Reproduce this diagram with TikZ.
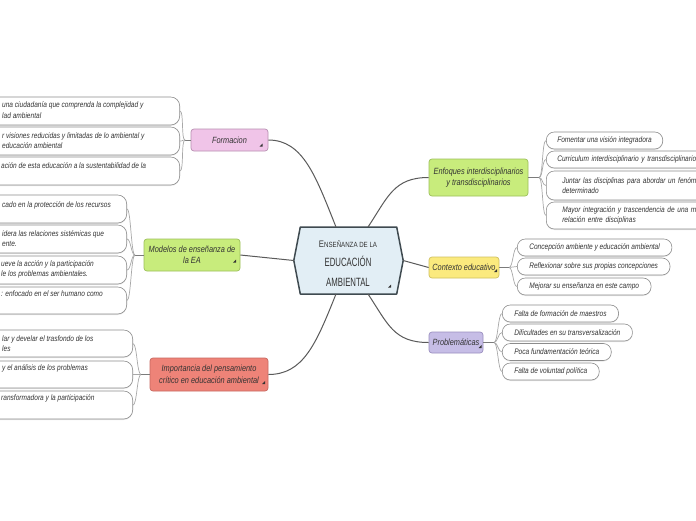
\documentclass[tikz,border=0pt]{standalone}
\usepackage{fontspec}
\setmainfont{Liberation Sans}
\newfontfamily\hand{Liberation Sans}[FakeStretch=0.82]
\newfontfamily\handc{Liberation Sans}[FakeStretch=0.65]
\usetikzlibrary{calc,shadows}
\definecolor{txt}{HTML}{333333}
\definecolor{cbord}{HTML}{8C8C8C}
\definecolor{conn}{HTML}{5A5A5A}
\definecolor{brk}{HTML}{A8A8A8}
\definecolor{pinkf}{HTML}{F0C4E8}
\definecolor{pinkd}{HTML}{B890B2}
\definecolor{greenf}{HTML}{C8EC7C}
\definecolor{greend}{HTML}{9CC05A}
\definecolor{redf}{HTML}{EE8378}
\definecolor{redd}{HTML}{C8675F}
\definecolor{yelf}{HTML}{FBEA7E}
\definecolor{yeld}{HTML}{CFC060}
\definecolor{lavf}{HTML}{C6BDE6}
\definecolor{lavd}{HTML}{9A8FC0}
\definecolor{ctrf}{HTML}{E2EEF5}
\definecolor{ctrd}{HTML}{3F4A50}
\tikzset{
  mainbox/.style={rounded corners=3pt, line width=0.7pt, text=txt, align=center,
    inner sep=0pt, font=\hand\itshape\fontsize{9}{11.5}\selectfont},
  childbox/.style={draw=cbord, fill=white, rounded corners=8pt, line width=0.6pt,
    text=txt, align=left, inner xsep=11pt, inner ysep=0pt, minimum height=17pt,
    font=\hand\itshape\fontsize{8}{10.5}\selectfont,
    drop shadow={opacity=0.18, shadow xshift=0pt, shadow yshift=-1pt}},
  leftbox/.style={draw=cbord, fill=white, rounded corners=9pt, line width=0.6pt,
    anchor=east, minimum width=320pt, inner sep=0pt,
    drop shadow={opacity=0.18, shadow xshift=0pt, shadow yshift=-1pt}},
  lefttext/.style={anchor=west, inner sep=0pt, align=left, text=txt,
    font=\hand\itshape\fontsize{8}{10.5}\selectfont},
  mainconn/.style={draw=conn, line width=1pt},
  stemconn/.style={draw=conn!80, line width=0.9pt},
  brkconn/.style={draw=brk, line width=0.7pt},
  marker/.style={fill=black!80}
}
\begin{document}
\begin{tikzpicture}[x=1pt,y=-1pt]
\path[use as bounding box] (0,0) rectangle (696,520);
\clip (0,0) rectangle (696,520);
\fill[white] (0,0) rectangle (696,520);

% ---------- centre ----------
\node[inner sep=0pt, minimum width=109pt, minimum height=66.6pt] (ctr) at (348.5,260.5) {};
\draw[fill=ctrf, draw=ctrd, line width=1.5pt, line join=round]
  ($(ctr.north west)+(6.5,0)$) -- ($(ctr.north east)+(-6.5,0)$) -- (ctr.east)
  -- ($(ctr.south east)+(-6.5,0)$) -- ($(ctr.south west)+(6.5,0)$) -- (ctr.west) -- cycle;
\node[inner sep=0pt, text=txt, align=center, font=\handc\fontsize{12}{19.5}\selectfont] (ctext) at (348,263.5)
  {{\hand\fontsize{9.5}{9.5}\selectfont E\fontsize{7.5}{7.5}\selectfont NSEÑANZA DE LA}\\EDUCACIÓN\\AMBIENTAL};
\fill[marker] (388,287.5) -- ++(3,0) -- ++(0,-3) -- cycle;

% ---------- main nodes ----------
\node[mainbox, fill=pinkf, draw=pinkd, minimum width=77pt, minimum height=22pt] (form) at (229.5,140) {Formacion};
\node[mainbox, fill=greenf, draw=greend, minimum width=96pt, minimum height=32pt] (mod) at (192,255) {Modelos de enseñanza de\\la EA};
\node[mainbox, fill=redf, draw=redd, minimum width=118pt, minimum height=33pt] (imp) at (209,374.5) {Importancia del pensamiento\\crítico en educación ambiental};
\node[mainbox, fill=greenf, draw=greend, minimum width=99pt, minimum height=37pt] (enf) at (478.5,177.5) {Enfoques interdisciplinarios\\y transdisciplinarios};
\node[mainbox, fill=yelf, draw=yeld, minimum width=70pt, minimum height=21pt] (ctx) at (464,267.5) {Contexto educativo};
\node[mainbox, fill=lavf, draw=lavd, minimum width=54pt, minimum height=21pt] (prob) at (456,342.5) {Problemáticas};

\fill[marker] (259.5,146.5) -- ++(3,0) -- ++(0,-3) -- cycle;
\fill[marker] (233,262.5) -- ++(3,0) -- ++(0,-3) -- cycle;
\fill[marker] (262,384) -- ++(3,0) -- ++(0,-3) -- cycle;
\fill[marker] (494,272) -- ++(3,0) -- ++(0,-3) -- cycle;
\fill[marker] (478.5,348) -- ++(3,0) -- ++(0,-3) -- cycle;

% ---------- centre connectors ----------
\draw[mainconn] (form.east) .. controls +(35,0) and +(-20,-50) .. ($(ctr.north)+(-12.5,0)$);
\draw[mainconn] (enf.west) .. controls +(-35,0) and +(20,-30) .. ($(ctr.north)+(19.5,0)$);
\draw[mainconn] (prob.west) .. controls +(-35,0) and +(20,30) .. ($(ctr.south)+(19.5,0)$);
\draw[mainconn] (imp.east) .. controls +(35,0) and +(-20,50) .. ($(ctr.south)+(-12.5,0)$);
\draw[mainconn] (mod.east) -- (ctr.west);
\draw[mainconn] (ctr.east) -- (ctx.west);

% ---------- Enfoques children ----------
\node[childbox, anchor=west] (e1) at (546,140.5) {Fomentar una visión integradora};
\node[childbox, anchor=west, text width=190pt] (e2) at (546,159.5) {Curriculum interdisciplinario y transdisciplinario};
\node[childbox, anchor=west, text width=190pt, inner xsep=16pt, minimum height=29pt] (e3) at (546,185.5) {Juntar las disciplinas para abordar un fenómeno\\determinado};
\node[childbox, anchor=west, text width=190pt, inner xsep=16pt, minimum height=27pt] (e4) at (546,215.5) {Mayor integración y trascendencia de una mejor\\relación entre disciplinas};
\coordinate (ej) at (539,177.5);
\draw[stemconn] (enf.east) -- (ej);
\foreach \c in {e1,e2,e3,e4} \draw[brkconn] (ej) .. controls +(4,0) and +(-4,0) .. (\c.west);

% ---------- Contexto children ----------
\node[childbox, anchor=west, inner xsep=12pt] (c1) at (517,247.5) {Concepción ambiente y educación ambiental};
\node[childbox, anchor=west, inner xsep=12pt] (c2) at (517,266.5) {Reflexionar sobre sus propias concepciones};
\node[childbox, anchor=west, inner xsep=12pt] (c3) at (517,286.5) {Mejorar su enseñanza en este campo};
\coordinate (cj) at (509,267.5);
\draw[stemconn] (ctx.east) -- (cj);
\foreach \c in {c1,c2,c3} \draw[brkconn] (cj) .. controls +(4,0) and +(-4,0) .. (\c.west);

% ---------- Problematicas children ----------
\node[childbox, anchor=west, inner xsep=12pt] (p1) at (502,313.5) {Falta de formación de maestros};
\node[childbox, anchor=west, inner xsep=12pt] (p2) at (502,332.5) {Dificultades en su transversalización};
\node[childbox, anchor=west, inner xsep=12pt] (p3) at (502,352) {Poca fundamentación teórica};
\node[childbox, anchor=west, inner xsep=12pt] (p4) at (502,371.5) {Falta de voluntad política};
\coordinate (pj) at (494,342.5);
\draw[stemconn] (prob.east) -- (pj);
\foreach \c in {p1,p2,p3,p4} \draw[brkconn] (pj) .. controls +(4,0) and +(-4,0) .. (\c.west);

% ---------- Formacion children ----------
\node[leftbox, minimum height=28pt] (f1) at (180,111) {};
\node[leftbox, minimum height=28pt] (f2) at (180,141) {};
\node[leftbox, minimum height=28pt] (f3) at (180,171) {};
\node[lefttext] (f1t) at (2,110) {una ciudadanía que comprenda la complejidad y\\lad ambiental};
\node[lefttext] (f2t) at (2,140.5) {r visiones reducidas y limitadas de lo ambiental y\\educación ambiental};
\node[lefttext] (f3t) at (1,166) {ación de esta educación a la sustentabilidad de la};
\coordinate (fj) at (185,140);
\draw[stemconn] (form.west) -- (fj);
\foreach \c in {f1,f2,f3} \draw[brkconn] (fj) .. controls +(-4,0) and +(4,0) .. (\c.east);

% ---------- Modelos children ----------
\node[leftbox, minimum height=28pt] (m1) at (127,209) {};
\node[leftbox, minimum height=28pt] (m2) at (127,239) {};
\node[leftbox, minimum height=28pt] (m3) at (127,270) {};
\node[leftbox, minimum height=27pt] (m4) at (127,300.5) {};
\node[lefttext] (m1t) at (2,205) {cado en la protección de los recursos};
\node[lefttext] (m2t) at (2,238.5) {idera las relaciones sistémicas que\\ente.};
\node[lefttext] (m3t) at (1,269.5) {ueve la acción y la participación\\le los problemas ambientales.};
\node[lefttext] (m4t) at (1,294) {: enfocado en el ser humano como};
\coordinate (mj) at (135,255);
\draw[stemconn] (mod.west) -- (mj);
\foreach \c in {m1,m2,m3,m4} \draw[brkconn] (mj) .. controls +(-4,0) and +(4,0) .. (\c.east);

% ---------- Importancia children ----------
\node[leftbox, minimum height=27pt] (i1) at (133,343.5) {};
\node[leftbox, minimum height=27pt] (i2) at (133,374.5) {};
\node[leftbox, minimum height=28pt] (i3) at (133,405) {};
\node[lefttext] (i1t) at (2,343.5) {lar y develar el trasfondo de los\\les};
\node[lefttext] (i2t) at (2,368) {y el análisis de los problemas};
\node[lefttext] (i3t) at (1,398) {ransformadora y la participación};
\coordinate (ij) at (141,374.5);
\draw[stemconn] (imp.west) -- (ij);
\foreach \c in {i1,i2,i3} \draw[brkconn] (ij) .. controls +(-4,0) and +(4,0) .. (\c.east);
\end{tikzpicture}
\end{document}
